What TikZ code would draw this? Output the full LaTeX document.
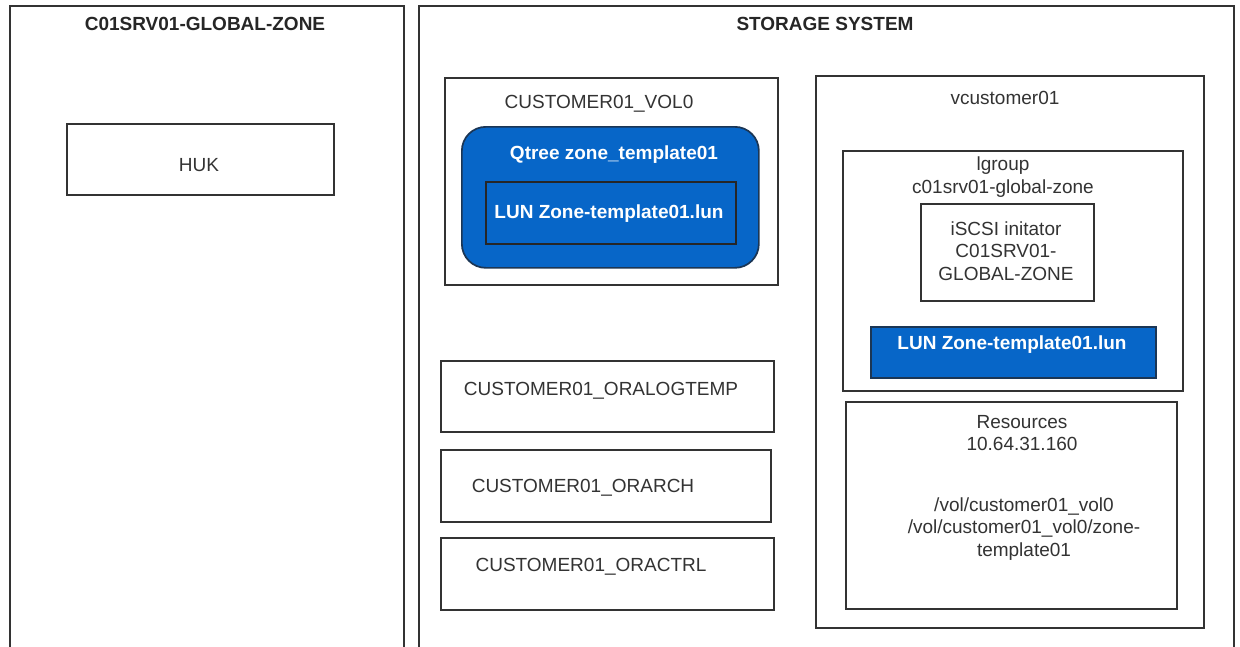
\documentclass[tikz,border=0pt]{standalone}
\usepackage{fontspec}
\setmainfont{Liberation Sans}
\definecolor{lineC}{HTML}{333333}
\definecolor{txtC}{HTML}{333333}
\definecolor{blueF}{HTML}{0766C8}
\definecolor{blueD}{HTML}{1B3655}
\begin{document}
\begin{tikzpicture}[x=1pt,y=-1pt,
  box/.style={draw=lineC,line width=1.7pt,fill=white,inner sep=0pt,anchor=north west},
  bluebox/.style={draw=blueD,line width=1.7pt,fill=blueF,inner sep=0pt,anchor=north west},
  txt/.style={text=txtC,font=\fontsize{19}{22.5}\selectfont,align=center,inner sep=0pt},
  ttl/.style={text=black!85,font=\fontsize{19}{22}\selectfont\bfseries,align=center,inner sep=0pt},
  wtxt/.style={text=white,font=\fontsize{19}{22}\selectfont\bfseries,align=center,inner sep=0pt}]
\useasboundingbox (0,0) rectangle (1240,646);
\clip (0,0) rectangle (1240,646);
\fill[white] (0,0) rectangle (1240,646);
% outer containers
\node[box,minimum width=394pt,minimum height=660pt] (gz) at (9,5) {};
\node[box,minimum width=815pt,minimum height=660pt] (ss) at (418,5) {};
\node[ttl] (gzt) at (205,24) {C01SRV01-GLOBAL-ZONE};
\node[ttl] (sst) at (825,24) {STORAGE SYSTEM};
% HUK
\node[box,minimum width=267pt,minimum height=71pt] (huk) at (66,123) {};
\node[txt] (hukt) at (199,165) {HUK};
% volume 0
\node[box,minimum width=333pt,minimum height=207pt] (vol0) at (444,77) {};
\node[txt] (vol0t) at (599,104) {CUSTOMER01\_VOL0};
\node[bluebox,rounded corners=24pt,minimum width=297pt,minimum height=141pt] (qt) at (461,126) {};
\node[wtxt] (qtt) at (614,155) {Qtree zone\_template01};
\node[draw=black!85,line width=1.7pt,fill=blueF,inner sep=0pt,anchor=north west,minimum width=250pt,minimum height=62pt] (lun1) at (485,181) {};
\node[wtxt] (lun1t) at (609,214) {LUN Zone-template01.lun};
% other volumes
\node[box,minimum width=333pt,minimum height=71pt] (olt) at (440,360) {};
\node[txt] (oltt) at (601,391) {CUSTOMER01\_ORALOGTEMP};
\node[box,minimum width=330pt,minimum height=72pt] (oar) at (440,449) {};
\node[txt] (oart) at (583,488) {CUSTOMER01\_ORARCH};
\node[box,minimum width=333pt,minimum height=72pt] (oct) at (440,537) {};
\node[txt] (octt) at (591,567) {CUSTOMER01\_ORACTRL};
% vcustomer01
\node[box,minimum width=388pt,minimum height=552pt] (vc) at (815,75) {};
\node[txt] (vct) at (1005,98) {vcustomer01};
\node[box,minimum width=340pt,minimum height=240pt] (lg) at (842,150) {};
\node[txt] (lgt) at (1003,177) {lgroup\\c01srv01-global-zone};
\node[box,minimum width=173pt,minimum height=97pt] (isc) at (920,203) {};
\node[txt] (isct) at (1006,251) {iSCSI initator\\C01SRV01-\\GLOBAL-ZONE};
\node[draw=blueD,line width=1.7pt,fill=blueF,inner sep=0pt,anchor=north west,minimum width=285pt,minimum height=51pt] (lun2) at (870,326) {};
\node[wtxt] (lun2t) at (1012,345) {LUN Zone-template01.lun};
\node[box,minimum width=331pt,minimum height=207pt] (res) at (845,401) {};
\node[txt] (rest) at (1022,433) {Resources\\10.64.31.160};
\node[txt] (resp) at (1024,529) {/vol/customer01\_vol0\\/vol/customer01\_vol0/zone-\\template01};
\end{tikzpicture}
\end{document}
